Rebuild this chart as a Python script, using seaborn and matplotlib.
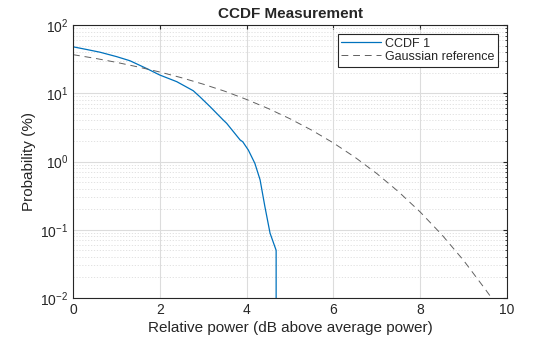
import numpy as np
import pandas as pd
import matplotlib
matplotlib.use("Agg")
import matplotlib.pyplot as plt
import seaborn as sns
from matplotlib.ticker import LogLocator, FixedLocator, NullFormatter

sns.set_style("white")
plt.rcParams['font.family'] = ['Liberation Sans', 'DejaVu Sans']
plt.rcParams['mathtext.fontset'] = 'custom'
plt.rcParams['mathtext.rm'] = 'Liberation Sans'

# Data
ccdf_x = [0.0, 0.3, 0.62, 1.0, 1.31, 1.7, 2.0, 2.39, 2.77, 2.93, 3.16, 3.46, 3.54,
          3.85, 3.91, 4.04, 4.19, 4.31, 4.42, 4.54, 4.68, 4.68]
ccdf_y = [48, 44, 40, 34.5, 30.0, 23.0, 18.5, 14.8, 10.9, 8.8, 6.35, 4.06, 3.63,
          2.07, 1.95, 1.47, 0.94, 0.54, 0.22, 0.089, 0.050, 1e-4]
gauss_x = [0.0, 0.5, 1.0, 1.5, 2.0, 2.5, 3.0, 3.5, 4.0, 4.5, 5.0, 5.5, 6.0, 6.5,
           7.0, 7.5, 8.0, 8.5, 9.0, 9.5, 9.65]
gauss_y = [36.8, 32.6, 28.4, 24.3, 20.5, 16.9, 13.6, 10.7, 8.11, 5.97, 4.23, 2.88,
           1.87, 1.15, 0.666, 0.361, 0.182, 0.0843, 0.0355, 0.0134, 0.0099]
x_ticks = [0, 2, 4, 6, 8, 10]
y_ticks = [1e-2, 1e-1, 1e0, 1e1, 1e2]
y_tick_labels = [r'$10^{-2}$', r'$10^{-1}$', r'$10^{0}$', r'$10^{1}$', r'$10^{2}$']

df1 = pd.DataFrame({'x': ccdf_x, 'y': ccdf_y})
df2 = pd.DataFrame({'x': gauss_x, 'y': gauss_y})

fig = plt.figure(figsize=(5.6, 3.37), dpi=100)
ax = fig.add_axes([0.1304, 0.1157, 0.775, 0.81])

sns.lineplot(data=df1, x='x', y='y', ax=ax, estimator=None, sort=False,
             color='#0072BD', linewidth=0.9, label='CCDF 1')
sns.lineplot(data=df2, x='x', y='y', ax=ax, estimator=None, sort=False,
             color='#606060', linewidth=0.7, label='Gaussian reference',
             dashes=False)
ax.lines[1].set_dashes([7, 5])

ax.set_yscale('log')
ax.set_xlim(0, 10)
ax.set_ylim(1e-2, 1e2)
ax.xaxis.set_major_locator(FixedLocator(x_ticks))
ax.set_yticks(y_ticks)
ax.set_yticklabels(y_tick_labels)
ax.yaxis.set_minor_locator(LogLocator(base=10, subs=np.arange(2, 10), numticks=20))
ax.yaxis.set_minor_formatter(NullFormatter())

ax.grid(True, which='major', color='#dcdcdc', linewidth=0.8, linestyle='-')
ax.grid(True, which='minor', axis='y', color='#dddddd', linewidth=0.6, linestyle=(0, (1.5, 2)))
ax.set_axisbelow(True)

ax.tick_params(axis='both', which='major', direction='in', length=3, width=0.8,
               top=True, right=True, labelsize=10, colors='#262626')
ax.tick_params(axis='both', which='minor', direction='in', length=1.8, width=0.6,
               top=True, right=True)
for s in ax.spines.values():
    s.set_color('#262626')
    s.set_linewidth(0.8)

ax.set_title('CCDF Measurement', fontsize=11, fontweight='bold', pad=5)
ax.set_xlabel('Relative power (dB above average power)', fontsize=11, labelpad=3)
ax.set_ylabel('Probability (%)', fontsize=11, labelpad=3)

leg = ax.legend(loc='upper right', fontsize=9, frameon=True, fancybox=False,
                edgecolor='#262626', framealpha=1, borderpad=0.3,
                handlelength=3.2, handletextpad=0.3, labelspacing=0.1,
                borderaxespad=0.7)
leg.get_frame().set_linewidth(0.8)

fig.savefig('out.png', dpi=100)
